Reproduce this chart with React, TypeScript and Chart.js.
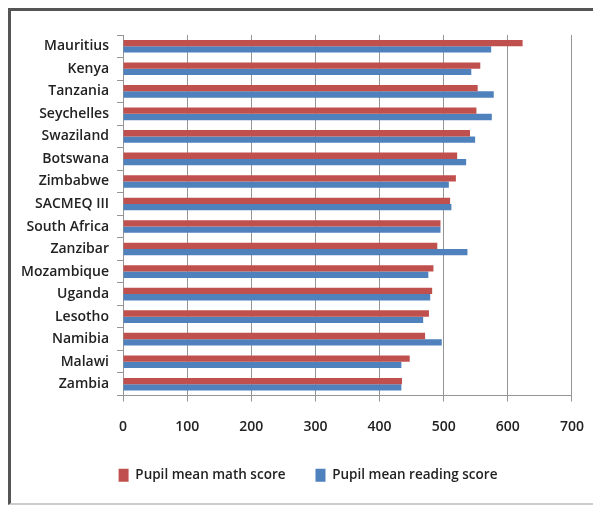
import React, { useEffect, useRef } from "react";
import { Chart, registerables } from "chart.js";

Chart.register(...registerables);

const countries = [
  "Mauritius",
  "Kenya",
  "Tanzania",
  "Seychelles",
  "Swaziland",
  "Botswana",
  "Zimbabwe",
  "SACMEQ III",
  "South Africa",
  "Zanzibar",
  "Mozambique",
  "Uganda",
  "Lesotho",
  "Namibia",
  "Malawi",
  "Zambia",
];
const mathScores = [623, 557, 553, 551, 541, 521, 519, 510, 495, 490, 484, 482, 477, 471, 447, 435];
const readingScores = [574, 543, 578, 575, 549, 535, 508, 512, 495, 537, 476, 479, 468, 497, 434, 434];
const xTickValues = [0, 100, 200, 300, 400, 500, 600, 700];
const seriesNames = ["Pupil mean math score", "Pupil mean reading score"];
const seriesColors = ["#C0504D", "#4F81BD"];

const FONT = "'Open Sans', 'DejaVu Sans', sans-serif";
const TEXT = "#222222";
const GRID = "#959595";

const legendShift = {
  id: "legendShift",
  afterLayout(chart: any) {
    const lg = chart.legend;
    if (lg) {
      lg.left += 10;
      lg.right += 10;
    }
  },
};

export default function App() {
  const ref = useRef<HTMLCanvasElement>(null);

  useEffect(() => {
    document.body.style.overflow = "hidden";
    if (!ref.current) return;
    const chart = new Chart(ref.current, {
      type: "bar",
      data: {
        labels: countries,
        datasets: [
          {
            label: seriesNames[0],
            data: mathScores,
            backgroundColor: seriesColors[0],
            borderWidth: 0,
            categoryPercentage: 0.56,
            barPercentage: 1,
          },
          {
            label: seriesNames[1],
            data: readingScores,
            backgroundColor: seriesColors[1],
            borderWidth: 0,
            categoryPercentage: 0.56,
            barPercentage: 1,
          },
        ],
      },
      plugins: [legendShift],
      options: {
        indexAxis: "y",
        responsive: false,
        animation: false,
        layout: { padding: { left: 0, right: 16, top: 24, bottom: 11 } },
        plugins: {
          legend: {
            position: "bottom",
            labels: {
              boxWidth: 10,
              boxHeight: 13,
              padding: 30,
              color: TEXT,
              font: { family: FONT, size: 13.5, weight: "600" },
            },
          },
          tooltip: { enabled: false },
        },
        scales: {
          x: {
            min: 0,
            max: 700,
            afterBuildTicks: (s: any) => {
              s.ticks = xTickValues.map((v) => ({ value: v }));
            },
            afterFit: (s: any) => {
              s.height = 43;
            },
            ticks: {
              padding: 17,
              color: TEXT,
              font: { family: FONT, size: 14, weight: "600" },
            },
            grid: { color: GRID, lineWidth: 1, tickLength: 6, tickColor: GRID },
            border: { color: GRID, width: 1 },
          },
          y: {
            afterFit: (s: any) => {
              s.width = 112;
            },
            ticks: {
              padding: 8,
              color: TEXT,
              font: { family: FONT, size: 14, weight: "600" },
            },
            grid: {
              drawOnChartArea: false,
              offset: true,
              tickLength: 6,
              color: GRID,
              tickColor: GRID,
            },
            border: { color: GRID, width: 1 },
          },
        },
      },
    });
    return () => chart.destroy();
  }, []);

  return (
    <div
      style={{
        width: 600,
        height: 492,
        borderLeft: "3px solid #555555",
        borderTop: "3px solid #555555",
        borderBottom: "2px solid #cccccc",
        background: "#ffffff",
      }}
    >
      <canvas ref={ref} width={590} height={492} style={{ display: "block" }} />
    </div>
  );
}
